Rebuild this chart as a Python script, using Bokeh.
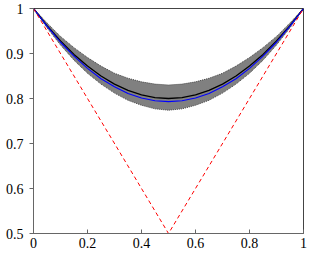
from bokeh.plotting import figure
from bokeh.models import FixedTicker, Range1d
from bokeh.embed import file_html
from bokeh.resources import INLINE

x = [0.0, 0.05, 0.1, 0.15, 0.2, 0.25, 0.3, 0.35, 0.4, 0.45, 0.5,
     0.55, 0.6, 0.65, 0.7, 0.75, 0.8, 0.85, 0.9, 0.95, 1.0]
mean_black = [1.0, 0.962, 0.928, 0.898, 0.872, 0.850, 0.832, 0.818, 0.808, 0.802, 0.800,
              0.802, 0.808, 0.818, 0.832, 0.850, 0.872, 0.898, 0.928, 0.962, 1.0]
fit_blue = [1.0, 0.961, 0.925, 0.894, 0.867, 0.844, 0.826, 0.811, 0.801, 0.795, 0.793,
            0.795, 0.801, 0.811, 0.826, 0.844, 0.867, 0.894, 0.925, 0.961, 1.0]
band_upper = [1.0, 0.968, 0.938, 0.913, 0.891, 0.872, 0.856, 0.845, 0.837, 0.832, 0.830,
              0.832, 0.837, 0.845, 0.856, 0.872, 0.891, 0.913, 0.938, 0.968, 1.0]
band_lower = [1.0, 0.957, 0.919, 0.885, 0.856, 0.832, 0.812, 0.796, 0.785, 0.777, 0.774,
              0.777, 0.785, 0.796, 0.812, 0.832, 0.856, 0.885, 0.919, 0.957, 1.0]
bound_x = [0.0, 0.5, 1.0]
bound_y = [1.0, 0.5, 1.0]

x_ticks = [0, 0.2, 0.4, 0.6, 0.8, 1]
x_labels = ["0", "0.2", "0.4", "0.6", "0.8", "1"]
y_ticks = [0.5, 0.6, 0.7, 0.8, 0.9, 1]
y_labels = ["0.5", "0.6", "0.7", "0.8", "0.9", "1"]

p = figure(width=311, height=259, output_backend="svg", toolbar_location=None,
           x_range=Range1d(0, 1), y_range=Range1d(0.5, 1),
           min_border_left=33, min_border_right=8, min_border_top=8, min_border_bottom=26)
p.grid.visible = False
p.outline_line_color = "#444444"
p.outline_line_width = 1
p.background_fill_color = "white"
p.border_fill_color = "white"

p.varea(x=x, y1=band_lower, y2=band_upper, fill_color="#808080", fill_alpha=1.0)
p.line(x, band_upper, line_color="#444444", line_width=1, line_dash="1 1")
p.line(x, band_lower, line_color="#444444", line_width=1, line_dash="1 1")
p.line(x, mean_black, line_color="black", line_width=1.3)
p.line(x, fit_blue, line_color="blue", line_width=1.1)
p.line(bound_x, bound_y, line_color="red", line_width=1, line_dash="4 3")

for ax, ticks, labels in ((p.xaxis[0], x_ticks, x_labels), (p.yaxis[0], y_ticks, y_labels)):
    ax.ticker = FixedTicker(ticks=ticks)
    ax.major_label_overrides = {t: l for t, l in zip(ticks, labels)}
    ax.minor_tick_line_color = None
    ax.axis_line_color = "#666666"
    ax.major_tick_line_color = "#666666"
    ax.major_label_text_font = "'Liberation Serif', 'Times New Roman', serif"
    ax.major_label_text_font_size = "14px"
    ax.major_label_text_color = "black"

p.xaxis.major_tick_in = 4
p.xaxis.major_tick_out = 0
p.xaxis.major_label_standoff = 4
p.yaxis.major_tick_in = 0
p.yaxis.major_tick_out = 4
p.yaxis.major_label_standoff = 6

open("out.html", "w").write(file_html(p, INLINE))
